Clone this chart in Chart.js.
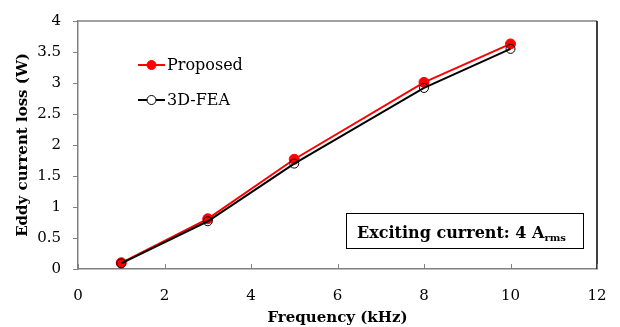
<!DOCTYPE html>
<html><head><meta charset="utf-8">
<script src="https://cdn.jsdelivr.net/npm/chart.js@4"></script>
<style>html,body{margin:0;padding:0;background:#fff}#wrap{width:620px;height:327px}</style>
</head><body><div id="wrap"><canvas id="c" width="620" height="327"></canvas></div>
<script>
const frequency = [1, 3, 5, 8, 10];
const proposed = [0.10, 0.81, 1.77, 3.01, 3.63];
const fea3d = [0.09, 0.77, 1.70, 2.92, 3.55];
const xTicks = [0, 2, 4, 6, 8, 10, 12];
const yTicks = [0, 0.5, 1, 1.5, 2, 2.5, 3, 3.5, 4];
const seriesNames = ['Proposed', '3D-FEA'];
const annotationMain = 'Exciting current: 4 A';
const annotationSub = 'rms';

const serif = '"DejaVu Serif", serif';

const overlay = {
  id: 'overlay',
  afterDraw(chart) {
    const ctx = chart.ctx, a = chart.chartArea, xs = chart.scales.x;
    ctx.save();
    ctx.lineWidth = 1.5;
    ctx.strokeStyle = '#808080';
    ctx.beginPath(); ctx.moveTo(a.left, a.top); ctx.lineTo(a.right, a.top); ctx.stroke();
    ctx.strokeStyle = '#000';
    ctx.beginPath(); ctx.moveTo(a.right, a.top); ctx.lineTo(a.right, a.bottom); ctx.stroke();
    ctx.strokeStyle = '#808080'; ctx.lineWidth = 1;
    xTicks.forEach(v => {
      const px = Math.round(xs.getPixelForValue(v)) + 0.5;
      ctx.beginPath(); ctx.moveTo(px, a.bottom); ctx.lineTo(px, a.bottom - 5); ctx.stroke();
    });
    const items = [
      {label: seriesNames[0], color: '#ff0000', fill: '#ff0000', y: 65},
      {label: seriesNames[1], color: '#000', fill: '#fff', y: 100}
    ];
    items.forEach(it => {
      ctx.strokeStyle = it.color; ctx.lineWidth = 2;
      ctx.beginPath(); ctx.moveTo(138, it.y); ctx.lineTo(165, it.y); ctx.stroke();
      ctx.beginPath(); ctx.arc(151.5, it.y, 4.5, 0, Math.PI * 2);
      ctx.fillStyle = it.fill; ctx.fill();
      ctx.lineWidth = 1; ctx.strokeStyle = it.color; ctx.stroke();
      ctx.fillStyle = '#000'; ctx.font = '16px ' + serif;
      ctx.textBaseline = 'middle'; ctx.textAlign = 'left';
      ctx.fillText(it.label, 167, it.y + 1);
    });
    ctx.strokeStyle = '#000'; ctx.lineWidth = 1;
    ctx.strokeRect(346.5, 213.5, 237, 35);
    ctx.fillStyle = '#000';
    ctx.font = 'bold 16px ' + serif;
    ctx.textBaseline = 'alphabetic';
    ctx.fillText(annotationMain, 357, 238);
    const w = ctx.measureText(annotationMain).width;
    ctx.font = 'bold 10px ' + serif;
    ctx.fillText(annotationSub, 357 + w, 241);
    ctx.restore();
  }
};

new Chart(document.getElementById('c'), {
  type: 'line',
  data: {
    datasets: [
      {label: seriesNames[1], data: frequency.map((f, i) => ({x: f, y: fea3d[i]})),
       borderColor: '#000', backgroundColor: 'rgba(255,255,255,0)', borderWidth: 2,
       pointRadius: 4.5, pointBorderWidth: 1, pointBorderColor: '#000', pointBackgroundColor: 'rgba(255,255,255,0)', order: 0, tension: 0},
      {label: seriesNames[0], data: frequency.map((f, i) => ({x: f, y: proposed[i]})),
       borderColor: '#ff0000', backgroundColor: '#ff0000', borderWidth: 2,
       pointRadius: 5, pointBorderWidth: 1, pointBorderColor: '#ff0000', pointBackgroundColor: '#ff0000', order: 1, tension: 0}
    ]
  },
  options: {
    responsive: false, animation: false, devicePixelRatio: 1,
    layout: {padding: {top: 19, right: 23, left: 14, bottom: 0}},
    plugins: {legend: {display: false}, tooltip: {enabled: false}},
    scales: {
      x: {
        type: 'linear', min: 0, max: 12,
        afterBuildTicks: s => { s.ticks = xTicks.map(v => ({value: v})); },
        afterFit: s => { s.height = 58; s.paddingLeft = 0; s.paddingRight = 0; },
        grid: {display: true, drawOnChartArea: false, drawTicks: false},
        border: {color: '#808080', width: 1.5},
        ticks: {color: '#000', font: {family: serif, size: 15}, padding: 18, maxRotation: 0, callback: v => String(v)},
        title: {display: true, text: 'Frequency (kHz)', color: '#000', font: {family: serif, size: 15, weight: 'bold'}, padding: {top: 0, bottom: 0}}
      },
      y: {
        type: 'linear', min: 0, max: 4,
        afterBuildTicks: s => { s.ticks = yTicks.map(v => ({value: v})); },
        afterFit: s => { s.width = 64; },
        grid: {display: true, drawOnChartArea: false, drawTicks: true, tickLength: 5, color: '#808080'},
        border: {color: '#808080', width: 1.5},
        ticks: {color: '#000', font: {family: serif, size: 15}, padding: 12, callback: v => String(v)},
        title: {display: true, text: 'Eddy current loss (W)', color: '#000', font: {family: serif, size: 15, weight: 'bold'}, padding: {top: 0, bottom: 0}}
      }
    }
  },
  plugins: [overlay]
});
</script></body></html>
